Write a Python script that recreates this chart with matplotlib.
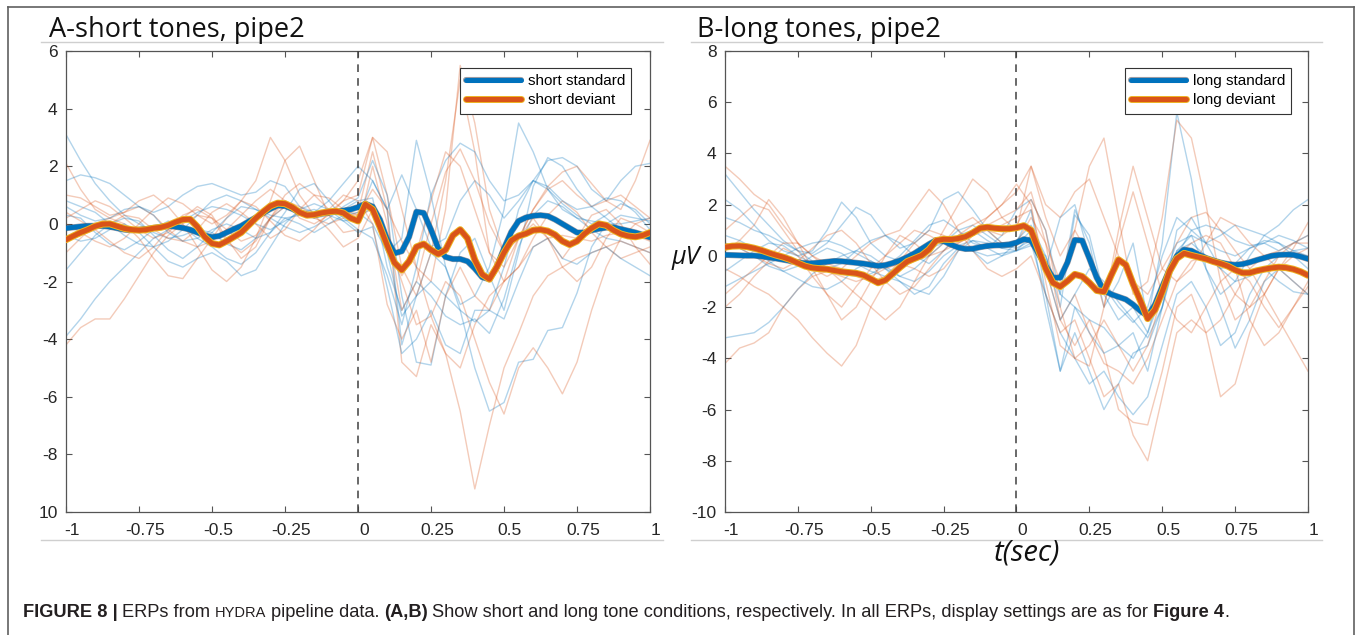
import numpy as np
import matplotlib
matplotlib.use('Agg')
import matplotlib.pyplot as plt
import matplotlib.patheffects as pe
from matplotlib.lines import Line2D
from matplotlib.transforms import ScaledTranslation

W, H = 1360, 635
BLUE = '#0072BD'
ORANGE = '#D95319'

# time axis: grand averages every 25 ms, single subjects every 50 ms
time_fine = np.linspace(-1, 1, 81)
time_coarse = np.linspace(-1, 1, 41)

x_ticks = [-1, -0.75, -0.5, -0.25, 0, 0.25, 0.5, 0.75, 1]
x_tick_labels = ['-1', '-0.75', '-0.5', '-0.25', '0', '0.25', '0.5', '0.75', '1']
y_ticks_a = [6, 4, 2, 0, -2, -4, -6, -8, -10]
y_tick_labels_a = ['6', '4', '2', '0', '-2', '-4', '-6', '-8', '10']
y_ticks_b = [8, 6, 4, 2, 0, -2, -4, -6, -8, -10]
y_tick_labels_b = ['8', '6', '4', '2', '0', '-2', '-4', '-6', '-8', '-10']

# panel A grand averages
short_standard = [
    -0.15, -0.12, -0.09, -0.07, -0.07, -0.07, -0.10, -0.15, -0.20, -0.22,
    -0.20, -0.18, -0.14, -0.10, -0.07, -0.10, -0.14, -0.20, -0.30, -0.40,
    -0.46, -0.42, -0.30, -0.18, -0.07, 0.08, 0.22, 0.38, 0.52, 0.64,
    0.62, 0.52, 0.40, 0.32, 0.30, 0.36, 0.40, 0.42, 0.46, 0.50,
    0.58, 0.70, 0.60, 0.15, -0.55, -1.02, -0.95, -0.45, 0.42, 0.38,
    -0.20, -0.85, -1.15, -1.22, -1.22, -1.30, -1.55, -1.85, -1.92, -1.50,
    -0.85, -0.28, 0.10, 0.22, 0.28, 0.30, 0.27, 0.15, 0.00, -0.15,
    -0.30, -0.30, -0.22, -0.17, -0.13, -0.12, -0.18, -0.24, -0.30, -0.38,
    -0.47]
short_deviant = [
    -0.55, -0.42, -0.30, -0.20, -0.08, -0.01, 0.00, -0.08, -0.16, -0.20,
    -0.22, -0.20, -0.15, -0.12, -0.05, 0.06, 0.15, 0.16, -0.10, -0.45,
    -0.68, -0.73, -0.60, -0.45, -0.30, -0.05, 0.20, 0.42, 0.62, 0.72,
    0.70, 0.58, 0.40, 0.30, 0.32, 0.38, 0.42, 0.44, 0.38, 0.20,
    0.10, 0.68, 0.50, -0.10, -0.75, -1.35, -1.60, -1.30, -0.80, -0.70,
    -0.90, -1.05, -0.90, -0.40, -0.20, -0.50, -1.25, -1.75, -1.92, -1.50,
    -1.00, -0.58, -0.42, -0.34, -0.22, -0.20, -0.25, -0.38, -0.60, -0.72,
    -0.60, -0.35, -0.15, 0.00, -0.05, -0.22, -0.35, -0.42, -0.45, -0.40,
    -0.30]

# panel A single subjects
short_standard_subj = [
    [3.1, 2.2, 1.4, 0.8, 0.3, 0.0, -0.3, -0.5, -0.4, -0.2, -0.3, -0.7, -0.9, -0.5, 0.2, 0.6, 0.4, 0.2, 0.3, 0.5,
     0.8, 0.9, -1.5, -3.0, -2.0, -2.5, -3.2, -3.5, -3.3, -3.8, -2.6, -0.8, 0.3, 0.8, 0.6, 0.2, -0.2, -0.5, -0.6, -0.8, -1.0],
    [-3.9, -3.3, -2.6, -2.0, -1.5, -1.0, -0.5, -0.2, 0.1, 0.4, 0.6, 0.5, 0.3, 0.0, -0.2, 0.1, 0.4, 0.5, 0.3, 0.1,
     0.2, 1.5, 0.5, -4.2, -2.5, -1.0, -1.5, -3.0, -5.0, -6.5, -6.2, -4.8, -4.7, -3.7, -3.6, -2.4, -0.8, 0.0, 0.3, 0.2, 0.1],
    [0.8, 0.6, 0.4, 0.0, -0.4, -0.7, -0.8, -0.6, -0.2, 0.3, 0.8, 1.0, 0.8, 0.5, 0.2, -0.1, -0.3, -0.1, 0.2, 0.6,
     0.9, 2.2, 1.0, -2.5, -4.8, -4.9, -2.5, -1.0, -0.5, -1.8, -3.0, -1.0, 1.3, 2.3, 2.0, 1.2, 0.6, 0.2, -0.2, -0.4, -0.5],
    [1.5, 1.7, 1.6, 1.4, 1.0, 0.6, 0.4, 0.6, 1.0, 1.3, 1.4, 1.2, 1.0, 1.1, 1.5, 1.3, 0.6, 0.4, 0.8, 1.4,
     2.0, 1.5, 0.5, 1.7, 0.5, -0.8, -0.5, 0.8, 1.5, 1.0, 0.2, 0.8, 1.5, 1.2, 0.5, 0.2, 0.1, 0.0, 0.0, 0.1, 0.2],
    [0.3, 0.2, -0.3, -0.7, -0.9, -0.6, -0.2, 0.1, -0.1, -0.5, -0.8, -1.2, -1.4, -1.0, -0.3, 0.2, 0.0, -0.3, 0.0, 0.3,
     0.4, 0.0, -1.0, -0.5, 2.9, 1.0, -1.5, -2.8, -2.5, -1.5, 0.5, 3.5, 2.5, 1.2, 0.7, 0.3, 0.0, 0.3, 0.7, 0.5, 0.0],
    [-1.6, -1.0, -0.4, 0.0, 0.2, 0.1, -0.4, -0.9, -1.2, -0.8, -0.3, 0.2, 0.6, 0.5, 0.3, 0.2, 0.3, 0.4, 0.4, 0.3,
     0.2, 0.6, -1.0, -3.2, -2.5, -2.0, -2.5, -3.0, -3.4, -3.0, -1.5, 0.5, 1.5, 2.2, 2.3, 2.0, 1.2, 0.8, 1.5, 2.0, 2.1],
    [0.6, 0.3, 0.1, 0.2, 0.5, 0.6, 0.3, -0.3, -0.6, -0.5, -0.2, 0.0, -0.2, -0.5, -0.3, 0.4, 1.2, 1.4, 0.8, 0.2,
     -0.2, -0.5, -1.8, -3.5, -1.5, 1.0, 2.2, 2.8, 2.5, 1.5, 0.8, 1.0, 1.5, 1.3, 0.8, 0.5, 0.6, 0.9, 0.8, 0.4, -0.2],
    [-0.4, -0.6, -0.5, -0.2, 0.0, -0.3, -0.8, -1.3, -1.5, -1.2, -1.0, -1.3, -1.8, -1.6, -0.8, 0.0, 0.5, 0.7, 0.5, 0.1,
     -0.3, -0.1, -2.2, -4.5, -4.0, -3.0, -4.2, -4.5, -3.0, -3.0, -3.3, -2.0, -0.8, -0.5, -1.2, -1.4, -1.0, -0.8, -1.2, -1.5, -1.8],
]
short_deviant_subj = [
    [-4.2, -3.6, -3.3, -3.3, -2.6, -1.8, -1.0, -0.4, 0.0, 0.3, 0.2, -0.2, -0.6, -0.4, 0.2, 0.6, 0.5, 0.2, 0.0, 0.2,
     0.4, 2.5, 0.5, -4.8, -5.3, -3.5, -4.5, -5.0, -3.5, -2.5, -2.0, -1.5, -0.8, -0.5, -0.4, -0.5, -0.6, -0.4, -0.3, -0.4, -0.6],
    [2.1, 1.2, 0.5, 0.2, 0.4, 0.6, 0.3, -0.2, -0.6, -0.8, -0.6, -0.2, 0.3, 0.8, 1.2, 0.8, 0.2, 0.0, 0.3, 0.8,
     1.5, 3.0, 1.0, -1.5, -2.5, -1.0, 1.5, 5.0, 2.5, -1.0, -2.0, -1.5, -0.5, 0.3, 0.8, 0.4, -0.3, -0.8, -1.2, -1.0, -0.8],
    [0.2, 0.5, 0.8, 0.6, 0.2, -0.2, -0.5, -0.3, 0.2, 0.6, 0.3, -0.5, -1.2, -0.8, 0.2, 1.0, 1.4, 1.0, 0.5, 0.3,
     0.3, 1.2, 0.5, -0.6, -1.5, -2.0, 0.5, 5.5, 3.5, 0.5, -1.0, -0.5, 0.5, 1.2, 1.5, 1.0, 0.6, 0.8, 1.0, 0.6, 0.2],
    [-0.6, -0.4, -0.2, 0.0, 0.3, 0.2, -0.2, -0.5, -0.6, -0.2, 0.4, 0.7, 0.4, 0.0, -0.5, -0.2, 0.5, 1.0, 0.9, 0.5,
     0.3, 0.5, -0.5, -2.0, -3.5, -3.2, -4.5, -6.5, -9.2, -7.0, -5.0, -3.8, -2.5, -1.8, -1.5, -1.2, -1.0, -0.8, -0.6, -0.8, -1.0],
    [-1.0, -0.5, 0.0, 0.2, 0.0, -0.5, -1.2, -1.8, -1.9, -1.2, -0.5, 0.2, 0.8, 0.6, 0.1, -0.4, -0.6, -0.2, 0.4, 0.8,
     1.0, 3.0, 2.5, 0.5, -1.5, -3.2, -2.0, -2.5, -4.0, -5.5, -6.6, -5.0, -4.3, -5.0, -5.9, -4.8, -3.0, -1.5, -0.5, 0.0, 0.2],
    [1.0, 0.9, 0.6, 0.3, 0.4, 0.8, 1.0, 0.6, 0.0, -0.8, -1.6, -2.0, -1.5, -0.5, 0.8, 2.2, 2.7, 1.5, 0.3, -0.3,
     -0.2, 2.0, 0.0, -3.0, -2.0, 0.0, 1.8, 2.6, 1.5, 0.0, -1.0, -0.5, 0.5, 1.3, 1.8, 2.0, 1.4, 0.8, 0.5, 1.5, 2.9],
    [0.0, -0.3, -0.6, -0.8, -0.5, 0.0, 0.5, 0.9, 0.7, 0.3, 0.0, 0.3, 0.8, 1.5, 3.0, 2.2, 1.0, 0.3, -0.2, -0.8,
     -0.5, 0.5, -0.5, -1.8, -1.0, 0.8, 2.5, 2.0, 0.5, -1.0, -1.5, -0.5, 0.2, -0.5, -1.2, -0.5, 0.3, 0.5, 0.0, -0.8, -1.4],
    [0.4, 0.1, -0.2, -0.6, -1.0, -1.2, -0.8, -0.2, 0.3, 0.5, 0.2, -0.6, -1.0, -0.6, 0.2, 0.8, 0.6, 0.3, 0.5, 1.0,
     0.8, 0.0, -2.8, -4.0, -3.0, -4.8, -2.5, -1.5, -2.5, -3.0, -2.0, -0.5, 0.0, -0.5, -1.5, -2.0, -1.5, -0.5, 0.2, 0.0, -0.3],
]

# panel B grand averages
long_standard = [
    0.04, 0.03, 0.02, 0.01, 0.01, -0.02, -0.06, -0.10, -0.15, -0.20,
    -0.25, -0.29, -0.29, -0.26, -0.23, -0.20, -0.21, -0.24, -0.27, -0.30,
    -0.35, -0.39, -0.36, -0.28, -0.18, -0.05, 0.10, 0.28, 0.46, 0.62,
    0.58, 0.44, 0.33, 0.27, 0.28, 0.34, 0.39, 0.41, 0.42, 0.44,
    0.52, 0.65, 0.60, 0.10, -0.40, -0.85, -0.85, -0.25, 0.62, 0.60,
    -0.10, -0.85, -1.35, -1.50, -1.60, -1.70, -1.90, -2.15, -2.35, -1.90,
    -1.20, -0.55, 0.00, 0.24, 0.20, 0.05, -0.08, -0.18, -0.26, -0.32,
    -0.35, -0.32, -0.25, -0.16, -0.08, 0.00, 0.04, 0.05, 0.04, -0.03,
    -0.12]
long_deviant = [
    0.34, 0.38, 0.39, 0.36, 0.30, 0.22, 0.12, 0.03, -0.05, -0.15,
    -0.28, -0.40, -0.47, -0.50, -0.52, -0.57, -0.62, -0.65, -0.68, -0.75,
    -0.90, -1.05, -0.95, -0.70, -0.45, -0.22, -0.10, 0.02, 0.25, 0.60,
    0.65, 0.64, 0.68, 0.75, 0.90, 1.08, 1.12, 1.08, 1.06, 1.06,
    1.10, 1.18, 1.00, 0.25, -0.50, -1.05, -1.20, -0.98, -0.72, -0.80,
    -1.05, -1.35, -1.40, -0.75, -0.15, -0.35, -1.10, -1.75, -2.45, -2.10,
    -1.40, -0.60, -0.10, 0.10, 0.02, -0.05, -0.12, -0.22, -0.30, -0.40,
    -0.55, -0.66, -0.66, -0.58, -0.52, -0.47, -0.44, -0.46, -0.52, -0.62,
    -0.76]

# panel B single subjects
long_standard_subj = [
    [3.2, 2.5, 1.8, 1.2, 0.6, 0.2, -0.2, -0.5, -0.7, -0.8, -0.7, -0.4, 0.0, 0.6, 1.2, 1.4, 1.0, 0.5, 0.3, 0.8,
     1.8, 2.2, 1.0, -1.5, -2.0, -2.5, -2.8, -3.5, -4.0, -3.0, -1.0, 0.5, 0.8, 0.5, 0.2, 0.0, 0.3, 0.6, 0.5, 0.2, 0.0],
    [-3.2, -3.1, -3.0, -2.6, -2.0, -1.3, -0.7, -0.3, 0.0, 0.2, 0.0, -0.4, -0.8, -1.0, -0.6, 0.0, 0.4, 0.6, 0.5, 0.3,
     0.4, 1.0, -2.0, -4.5, -3.0, -4.5, -6.0, -5.0, -3.8, -3.5, -2.0, 0.0, 1.0, 1.2, 1.0, 0.6, 0.4, 0.5, 0.8, 0.6, 0.3],
    [1.5, 1.3, 1.0, 0.8, 0.5, 0.2, 0.1, 0.5, 1.2, 1.9, 1.6, 0.8, 0.3, 0.5, 1.0, 2.2, 2.5, 1.8, 1.0, 0.5,
     0.6, 1.2, 0.0, -1.5, 1.8, 0.5, -2.0, -1.0, 0.5, -2.5, 0.5, 5.6, 3.0, -0.5, -1.5, -1.0, 0.0, 0.8, 0.5, 0.0, -0.5],
    [0.5, 0.3, 0.0, -0.4, -0.6, -0.4, 0.0, 0.3, 0.1, -0.3, -0.6, -0.8, -1.0, -1.3, -1.5, -0.8, 0.2, 0.6, 0.3, 0.0,
     0.2, 0.5, -1.5, -3.0, -4.0, -5.0, -4.5, -5.5, -6.2, -5.5, -3.5, -1.5, -1.0, -2.0, -3.5, -3.0, -1.5, -0.5, 0.0, 0.2, 0.3],
    [-1.2, -0.9, -0.6, -0.3, 0.0, 0.3, 0.5, 0.6, 0.4, 0.1, -0.2, -0.5, -0.8, -0.5, 0.0, 0.5, 1.0, 1.2, 0.8, 0.4,
     0.3, 0.6, -0.5, 1.5, 2.0, 0.0, -1.2, -2.0, -2.6, -2.0, 0.0, 1.5, 1.0, 0.5, 0.8, 1.2, 1.0, 0.8, 1.2, 1.8, 2.2],
    [0.8, 0.6, 0.3, -0.2, -0.6, -0.9, -1.2, -1.3, -1.0, -0.5, -0.2, -0.5, -1.0, -1.5, -1.2, -0.3, 0.3, 0.2, -0.3, 0.0,
     0.5, 1.8, -1.5, -4.5, -2.0, -3.0, -3.8, -3.5, -3.0, -4.5, -2.0, 1.0, 1.5, 0.5, -0.5, -1.0, -0.8, -0.5, -1.0, -1.4, -1.5],
    [-0.6, -0.2, 0.2, 0.5, 0.4, 0.0, -0.3, -0.5, -0.3, 0.2, 0.6, 0.8, 0.5, 0.0, -0.3, 0.2, 0.8, 1.0, 0.6, 0.3,
     0.2, 0.4, 0.0, -2.0, 1.6, 0.8, -1.5, -2.5, -2.0, -3.0, -1.5, 0.2, 0.5, 0.0, -0.5, -0.3, 0.3, 0.5, 0.2, 0.5, 0.8],
    [2.2, 1.8, 1.2, 0.6, 0.2, 0.0, 0.2, 1.0, 2.1, 1.5, 0.5, 0.0, -0.2, 0.0, 0.3, 0.5, 0.4, 0.2, 0.0, 0.1,
     0.2, 0.8, -0.5, -2.5, -1.5, -0.5, -1.0, -1.8, -2.5, -3.2, -2.0, 0.2, 0.8, -0.5, -2.0, -3.6, -2.5, -1.0, -0.5, -1.0, -1.5],
]
long_deviant_subj = [
    [-4.2, -3.6, -3.4, -3.0, -2.0, -1.3, -0.8, -0.6, -0.8, -1.0, -0.8, -0.5, -0.3, -0.5, -0.8, -0.5, 0.2, 0.8, 1.2, 1.5,
     1.8, 2.5, 0.5, -2.5, -1.5, -3.0, -4.2, -4.5, -5.0, -4.0, -2.5, -1.0, -0.2, 0.0, -0.5, -1.5, -2.0, -1.5, -0.5, 0.3, 1.3],
    [3.5, 3.0, 2.4, 2.0, 1.2, 0.5, 0.0, -0.3, -0.5, -0.8, -1.0, -0.8, -0.2, 0.5, 1.0, 0.8, 0.5, 0.8, 1.5, 2.0,
     2.5, 3.5, 2.0, 1.5, 2.5, 3.0, 1.5, 0.0, -1.0, -1.5, -0.5, 0.5, 1.5, 1.7, 1.0, 0.2, -0.5, -1.5, -2.5, -3.5, -4.5],
    [0.2, 0.6, 1.2, 2.2, 1.5, 0.5, -0.5, -1.5, -2.5, -2.0, -1.0, 0.0, 0.8, 0.5, 0.0, 0.5, 1.2, 1.5, 1.0, 0.5,
     0.5, 1.5, 0.5, -1.0, 1.0, 3.5, 4.6, 1.5, -1.5, -1.0, 1.5, 5.3, 4.6, 2.0, -1.0, -2.5, -2.0, -1.0, 0.0, 0.5, 0.8],
    [-0.5, -0.8, -1.2, -1.5, -2.0, -2.5, -3.2, -3.8, -4.3, -3.5, -2.0, -1.0, -0.5, -0.2, 0.0, 0.2, 0.5, 0.8, 1.0, 1.2,
     1.5, 1.8, -0.5, -2.5, -3.5, -2.5, -3.8, -6.0, -6.5, -6.6, -4.5, -2.0, -1.5, -3.0, -5.5, -5.0, -3.0, -1.5, -0.5, 0.0, 0.3],
    [1.0, 1.5, 2.0, 1.8, 1.0, 0.2, -0.5, -0.8, -0.5, 0.0, 0.5, 0.8, 1.0, 1.8, 2.6, 2.0, 1.0, 0.2, -0.5, -0.8,
     -0.5, 0.0, -1.5, -3.0, -2.5, -4.0, -5.5, -5.0, -7.0, -8.0, -5.5, -3.0, -2.5, -3.0, -2.5, -1.5, -0.5, 0.0, -0.5, -1.0, -1.5],
    [-1.5, -1.0, -0.5, 0.0, 0.5, 0.5, 0.0, -0.5, -1.0, -1.5, -2.0, -2.5, -2.0, -1.0, 0.0, 1.0, 2.0, 3.0, 2.5, 1.5,
     1.0, 3.5, 1.5, 0.0, 1.0, 0.0, -2.0, 0.5, 2.5, 0.5, -1.5, -2.5, -3.0, -2.0, -1.0, -0.5, -1.0, -2.0, -2.8, -2.0, -1.2],
    [0.5, 0.3, 0.0, -0.3, -0.5, -0.2, 0.3, 0.8, 1.0, 0.5, -0.3, -1.0, -1.5, -1.2, -0.5, 0.2, 0.8, 1.2, 1.5, 2.0,
     2.8, 2.0, -1.0, -3.5, -4.0, -4.3, -2.0, 1.0, 3.5, 1.5, -0.5, -1.0, -0.5, 0.5, 1.5, 1.2, 0.5, 0.0, 0.2, 0.5, 0.5],
    [-2.0, -1.5, -0.8, -0.2, 0.3, 0.0, -0.8, -1.5, -2.0, -1.2, -0.5, 0.0, 0.5, 1.0, 0.8, 0.5, 0.6, 1.0, 1.0, 0.8,
     1.2, 2.2, 1.0, -2.0, -4.0, -3.5, -2.5, -3.5, -4.5, -3.5, -1.5, 0.0, 0.5, 0.8, 0.5, -0.5, -2.5, -3.5, -3.0, -2.0, -1.0],
]

caption_runs = [
    ('FIGURE 8 |', 'bold', 1.0, True),
    ('ERPs from', 'normal', 1.0, True),
    ('HYDRA', 'normal', 0.8, True),
    ('pipeline data.', 'normal', 1.0, True),
    ('(A,B)', 'bold', 1.0, True),
    ('Show short and long tone conditions, respectively. In all ERPs, display settings are as for', 'normal', 1.0, True),
    ('Figure 4', 'bold', 1.0, False),
    ('.', 'normal', 1.0, False),
]

NARROW = ['Liberation Sans Narrow', 'Liberation Sans', 'DejaVu Sans']
TITLE_FONT = ['Open Sans', 'DejaVu Sans']


def fx(px):
    return px / W


def fy(py):
    return 1 - py / H


def hline(fig, x0, x1, y, color, lw):
    fig.add_artist(Line2D([fx(x0), fx(x1)], [fy(y), fy(y)], color=color, lw=lw))


def draw_panel(fig, left_px, right_px, std, dev, std_subj, dev_subj,
               yticks, ylabels, names, legend_right_px):
    top_px, bottom_px = 51, 512
    ax = fig.add_axes([fx(left_px), fy(bottom_px), (right_px - left_px) / W, (bottom_px - top_px) / H])

    for s, d in zip(std_subj, dev_subj):
        ax.plot(time_coarse, s, color=BLUE, alpha=0.3, lw=1.0, solid_joinstyle='round')
        ax.plot(time_coarse, d, color=ORANGE, alpha=0.3, lw=1.0, solid_joinstyle='round')

    ax.axvline(0, color='#404040', lw=1.1, dashes=(5, 4), zorder=3)

    ax.plot(time_fine, std, color=BLUE, lw=3.6, label=names[0], zorder=5,
            solid_joinstyle='round', solid_capstyle='round',
            path_effects=[pe.Stroke(linewidth=4.4, foreground='#3a3a4a', alpha=0.5), pe.Normal()])
    ax.plot(time_fine, dev, color=ORANGE, lw=3.6, label=names[1], zorder=6,
            solid_joinstyle='round', solid_capstyle='round',
            path_effects=[pe.Stroke(linewidth=5.0, foreground='#EDB120'), pe.Normal()])

    ax.set_xlim(-1, 1)
    ax.set_ylim(yticks[-1], yticks[0])
    ax.set_xticks(x_ticks)
    ax.set_xticklabels(x_tick_labels, family=NARROW)
    ax.set_yticks(yticks)
    ax.set_yticklabels(ylabels, family=NARROW)
    ax.tick_params(direction='in', length=4, width=0.8, color='#555555',
                   top=True, right=True, labelsize=12.5, labelcolor='#262626')
    ax.tick_params(axis='x', pad=8)
    ax.tick_params(axis='y', pad=6)
    for sp in ax.spines.values():
        sp.set_color('#555555')
        sp.set_linewidth(0.9)

    shift = ScaledTranslation(6 / 100, 0, fig.dpi_scale_trans)
    for lab in ax.get_xticklabels():
        lab.set_transform(lab.get_transform() + shift)

    anchor_x = (legend_right_px - left_px) / (right_px - left_px)
    anchor_y = 1 - (68 - top_px) / (bottom_px - top_px)
    leg = ax.legend(loc='upper right', bbox_to_anchor=(anchor_x, anchor_y), borderaxespad=0,
                    fancybox=False, framealpha=1, edgecolor='#333333',
                    prop={'family': NARROW, 'size': 11},
                    handlelength=3.6, handletextpad=0.4, labelspacing=0.35, borderpad=0.4)
    leg.get_frame().set_linewidth(0.8)
    return ax


def draw_caption(fig, runs, x_px, y_px, right_px, size):
    renderer = fig.canvas.get_renderer()
    for attempt in range(2):
        x = x_px
        texts = []
        for text, weight, scale, space in runs:
            t = fig.text(fx(x), fy(y_px), text, fontsize=size * scale, fontweight=weight,
                         family=NARROW, color='#231f20', va='baseline', ha='left')
            x += t.get_window_extent(renderer).width
            if space:
                x += 0.25 * size * 100 / 72
            texts.append(t)
        if attempt == 0:
            for t in texts:
                t.remove()
            size *= (right_px - x_px) / (x - x_px)


def main():
    plt.rcParams['font.family'] = ['Liberation Sans', 'DejaVu Sans']
    fig = plt.figure(figsize=(W / 100, H / 100), dpi=100)

    # outer frame of the figure
    frame = dict(color='#606060', lw=1.2)
    fig.add_artist(Line2D([fx(7.5), fx(7.5)], [0, fy(6.5)], **frame))
    fig.add_artist(Line2D([fx(1354), fx(1354)], [0, fy(6.5)], **frame))
    fig.add_artist(Line2D([fx(7.5), fx(1354)], [fy(6.5), fy(6.5)], **frame))

    hline(fig, 41, 663, 42, '#cfcfcf', 1.0)
    hline(fig, 41, 663, 540, '#cfcfcf', 1.0)
    hline(fig, 691, 1322, 42, '#cfcfcf', 1.0)
    hline(fig, 691, 1322, 540, '#cfcfcf', 1.0)

    draw_panel(fig, 66, 650, short_standard, short_deviant, short_standard_subj, short_deviant_subj,
               y_ticks_a, y_tick_labels_a, ['short standard', 'short deviant'], 631)
    draw_panel(fig, 725, 1308, long_standard, long_deviant, long_standard_subj, long_deviant_subj,
               y_ticks_b, y_tick_labels_b, ['long standard', 'long deviant'], 1291)

    fig.text(fx(49), fy(37), 'A-short tones, pipe2', family=TITLE_FONT, fontsize=19.5,
             color='#111111', va='baseline', ha='left')
    fig.text(fx(697), fy(37), 'B-long tones, pipe2', family=TITLE_FONT, fontsize=19.5,
             color='#111111', va='baseline', ha='left')
    fig.text(fx(686), fy(257), 'μV', family=TITLE_FONT, style='italic', fontsize=18,
             color='#111111', va='center', ha='center')
    fig.text(fx(1027), fy(553), 't(sec)', family=TITLE_FONT, style='italic', fontsize=21,
             color='#111111', va='center', ha='center')

    draw_caption(fig, caption_runs, 23, 617, 1233, 12)

    fig.savefig('out.png', dpi=100)


if __name__ == '__main__':
    main()
